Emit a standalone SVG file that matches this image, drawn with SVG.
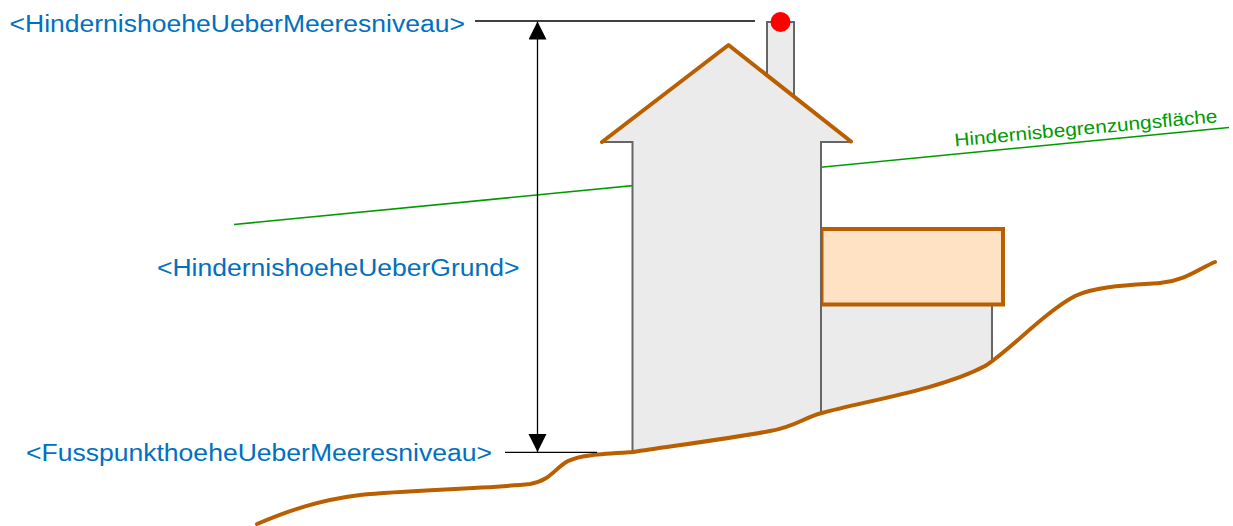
<svg xmlns="http://www.w3.org/2000/svg" width="1233" height="526" viewBox="0 0 1233 526">
  <defs>
    <style>
      .lbl { font-family: "Liberation Sans", Arial, sans-serif; font-size: 23.5px; fill: #0070c0; }
      .green { font-family: "Liberation Sans", Arial, sans-serif; font-size: 18.5px; fill: #009a00; }
      .wall { fill: none; stroke: #666666; stroke-width: 2; }
      .body { fill: #ebebeb; stroke: none; }
      .orange { fill: none; stroke: #b95f00; stroke-width: 4; stroke-linecap: round; stroke-linejoin: round; }
      .dim { fill: none; stroke: #000000; stroke-width: 1.3; }
    </style>
    <marker id="arrow" viewBox="0 0 18 20" refX="18" refY="9" markerWidth="18" markerHeight="20" markerUnits="userSpaceOnUse" orient="auto">
      <path d="M0,0 L18,9 L0,18 Z" fill="#000000"/>
    </marker>
  </defs>
  <rect width="1233" height="526" fill="#ffffff"/>

  <g id="obstacle-surface">
    <line x1="234" y1="224.5" x2="1229" y2="127.5" stroke="#009a00" stroke-width="1.6"/>
    <text class="green" x="955" y="146.5" transform="rotate(-5.3 955 146.5)" textLength="264" lengthAdjust="spacingAndGlyphs">Hindernisbegrenzungsfläche</text>
  </g>

  <g id="chimney">
    <path class="body" d="M767,22 L794,22 L794,97 L767,76 Z"/>
    <path class="wall" d="M767,76 L767,22 L794,22 L794,97"/>
  </g>

  <g id="annex">
    <path class="body" d="M821,305 L992,305 L992,361 C960,378 910,393 848,406 L821,414 Z"/>
    <path class="wall" d="M992,305 L992,361"/>
    <rect x="821.5" y="229" width="181.5" height="75.5" fill="#ffe2c4" stroke="#b95f00" stroke-width="4"/>
  </g>

  <g id="house">
    <path class="body" d="M632,453 L632,142 L602,142 L728,45 L851,142 L821,142 L821,414 C805,418 795,427 770,431 L633,452 Z"/>
    <path class="wall" d="M602,142 L632.5,142 L632.5,452"/>
    <path class="wall" d="M851,142 L821,142 L821,414"/>
    <path class="orange" d="M602,142 L728.5,45 L851,141.5"/>
    <circle id="top-point" cx="780.5" cy="22" r="10" fill="#ff0000"/>
  </g>

  <g id="ground">
    <path class="orange" stroke-width="3" d="M257,524 C290,510 320,500 360,495 C410,490 480,489 530,484 C550,481 555,468 568,461 C580,455 600,454 633,452 C680,445 740,437 770,431 C795,427 805,417 822,413 C860,402 940,390 985,366 C1010,350 1045,312 1075,296 C1095,286 1130,285 1160,283 C1185,281 1200,268 1215,262"/>
  </g>

  <g id="connectors">
    <line class="dim" x1="475" y1="21" x2="755" y2="21"/>
    <line class="dim" x1="505" y1="452.3" x2="597" y2="452.3"/>
    <line class="dim" x1="537.5" y1="237" x2="537.5" y2="21.5" marker-end="url(#arrow)"/>
    <line class="dim" x1="537.5" y1="237" x2="537.5" y2="452" marker-end="url(#arrow)"/>
  </g>

  <g id="labels">
    <text class="lbl" x="9.5" y="31.5" textLength="455.5" lengthAdjust="spacingAndGlyphs">&lt;HindernishoeheUeberMeeresniveau&gt;</text>
    <text class="lbl" x="157" y="276" textLength="362.5" lengthAdjust="spacingAndGlyphs">&lt;HindernishoeheUeberGrund&gt;</text>
    <text class="lbl" x="26" y="461" textLength="466" lengthAdjust="spacingAndGlyphs">&lt;FusspunkthoeheUeberMeeresniveau&gt;</text>
  </g>
</svg>
